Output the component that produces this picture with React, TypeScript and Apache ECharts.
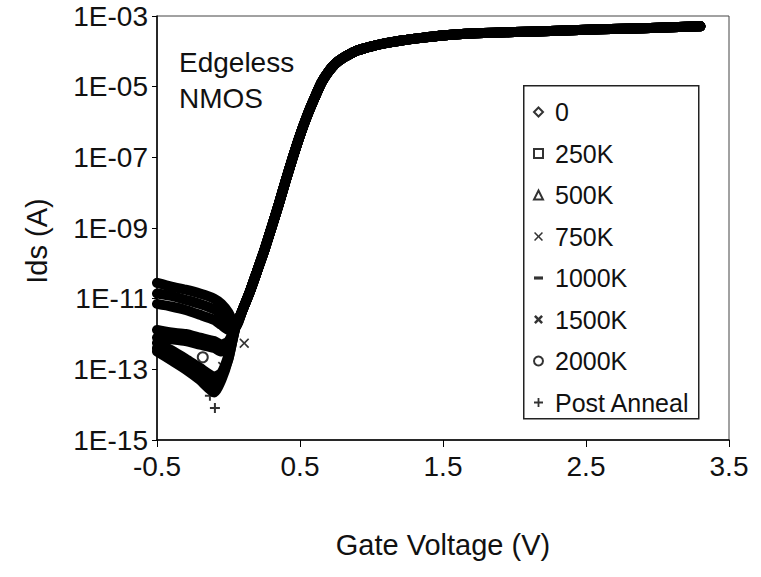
import React, { useEffect, useRef } from "react";
import * as echarts from "echarts";

const FONT = "'Liberation Sans', Arial, Helvetica, sans-serif";

const seriesNames = ["0", "250K", "500K", "750K", "1000K", "1500K", "2000K", "Post Anneal"];

// Gate voltage points in the sub-threshold (leakage) region
const subVoltage = [-0.5, -0.4, -0.3, -0.2, -0.1, -0.05, 0.0];
const ids0 = [2.8e-11, 2.2e-11, 1.8e-11, 1.4e-11, 1.0e-11, 7.1e-12, 4.0e-12];
const ids250K = [1.4e-11, 1.2e-11, 9.3e-12, 7.1e-12, 5.0e-12, 3.5e-12, 2.2e-12];
const ids500K = [7.1e-12, 6.0e-12, 4.8e-12, 3.5e-12, 2.5e-12, 1.8e-12, 1.3e-12];
const ids750K = [5.6e-13, 3.5e-13, 2.0e-13, 1.1e-13, 6.3e-14, 7.9e-14, 2.5e-13];
const ids1000K = [1.3e-12, 1.1e-12, 1.0e-12, 7.9e-13, 6.3e-13, 5.0e-13, 6.3e-13];
const ids1500K = [4.0e-13, 2.5e-13, 1.4e-13, 7.9e-14, 4.5e-14, 6.3e-14, 2.0e-13];
const ids2000K = [7.9e-13, 7.1e-13, 6.3e-13, 5.0e-13, 4.0e-13, 3.2e-13, 5.0e-13];
const idsPostAnneal = [3.2e-13, 1.8e-13, 1.0e-13, 5.0e-14, 2.2e-14, 5.0e-14, 2.0e-13];

// Shared turn-on curve (all doses overlap here)
const mainVoltage = [0.05, 0.1, 0.15, 0.2, 0.25, 0.3, 0.35, 0.4, 0.45, 0.5, 0.55, 0.6, 0.65, 0.7, 0.75, 0.8, 0.85, 0.9, 1.0, 1.1, 1.2, 1.35, 1.5, 1.7, 2.0, 2.3, 2.6, 2.9, 3.1, 3.3];
const mainIds = [1.6e-12, 5.0e-12, 1.6e-11, 6.0e-11, 2.3e-10, 1.0e-9, 4.5e-9, 2.2e-8, 1.0e-7, 4.2e-7, 1.5e-6, 4.6e-6, 1.3e-5, 2.7e-5, 4.6e-5, 6.5e-5, 8.4e-5, 1.05e-4, 1.38e-4, 1.7e-4, 2.0e-4, 2.4e-4, 2.8e-4, 3.2e-4, 3.5e-4, 3.8e-4, 4.2e-4, 4.5e-4, 4.8e-4, 5.1e-4];

// Isolated visible markers
const stray750K = [[0.11, 5.5e-13], [-0.04, 1.2e-13]];
const stray2000K = [[-0.18, 2.2e-13]];
const strayPostAnneal = [[-0.13, 1.8e-14], [-0.095, 8e-15]];

const yTickLabels = ["1E-15", "1E-13", "1E-11", "1E-09", "1E-07", "1E-05", "1E-03"];
const xTickLabels = ["-0.5", "0.5", "1.5", "2.5", "3.5"];

const X_PATH = "path://M1.2,0L5,3.8L8.8,0L10,1.2L6.2,5L10,8.8L8.8,10L5,6.2L1.2,10L0,8.8L3.8,5L0,1.2Z";
const DASH_PATH = "path://M0,0H10V3.5H0Z";
const STAR_PATH = "path://M0,2L2,0L5,3L8,0L10,2L7,5L10,8L8,10L5,7L2,10L0,8L3,5Z";
const PLUS_PATH = "path://M4,0H6V4H10V6H6V10H4V6H0V4H4Z";
const symbols = ["emptyDiamond", "emptyRect", "emptyTriangle", X_PATH, DASH_PATH, STAR_PATH, "emptyCircle", PLUS_PATH];

const subIds = [ids0, ids250K, ids500K, ids750K, ids1000K, ids1500K, ids2000K, idsPostAnneal];
const strays: Record<string, number[][]> = { "750K": stray750K, "2000K": stray2000K, "Post Anneal": strayPostAnneal };

export default function App() {
  const ref = useRef<HTMLDivElement>(null);
  useEffect(() => {
    if (!ref.current) return;
    const chart = echarts.init(ref.current, null, { renderer: "svg" });

    const scatterSeries = seriesNames.map((name, i) => ({
      name,
      type: "scatter",
      symbol: symbols[i],
      symbolSize: 10,
      itemStyle: { color: "#000", borderWidth: 1.5 },
      data: strays[name] || [],
      z: 5,
    }));
    const lineSeries = seriesNames.map((name, i) => ({
      name,
      type: "line",
      showSymbol: false,
      symbol: "none",
      smooth: 0.2,
      lineStyle: { color: "#000", width: 10, join: "round", cap: "round" },
      itemStyle: { color: "#000" },
      data: [
        ...subVoltage.map((v, k) => [v, subIds[i][k]]),
        ...mainVoltage.map((v, k) => [v, mainIds[k]]),
      ],
      z: 3,
    }));

    chart.setOption({
      animation: false,
      backgroundColor: "#fff",
      textStyle: { fontFamily: FONT },
      grid: { left: 157, right: 32, top: 16, bottom: 137, show: true, borderColor: "#444", borderWidth: 1 },
      xAxis: {
        type: "value",
        min: -0.5,
        max: 3.5,
        interval: 1,
        name: "Gate Voltage (V)",
        nameLocation: "middle",
        nameGap: 90,
        nameTextStyle: { fontSize: 29, color: "#111", fontFamily: FONT },
        axisLine: { onZero: false, lineStyle: { color: "#000", width: 1.5 } },
        axisTick: { show: true, length: 7, lineStyle: { color: "#000" } },
        axisLabel: {
          fontSize: 28,
          color: "#111",
          fontFamily: FONT,
          margin: 12,
          formatter: (v: number) => xTickLabels[Math.round(v + 0.5)] ?? String(v),
        },
        splitLine: { show: false },
      },
      yAxis: {
        type: "log",
        logBase: 10,
        min: 1e-15,
        max: 1e-3,
        interval: 2,
        name: "Ids (A)",
        nameLocation: "middle",
        nameGap: 106,
        nameTextStyle: { fontSize: 29, color: "#111", fontFamily: FONT, padding: [0, 26, 0, 0] },
        axisLine: { show: true, onZero: false, lineStyle: { color: "#000", width: 1.5 } },
        axisTick: { show: true, length: 5, lineStyle: { color: "#000" } },
        axisLabel: {
          fontSize: 28,
          color: "#111",
          fontFamily: FONT,
          margin: 9,
          formatter: (v: number) => {
            const e = Math.round(Math.log10(v));
            return yTickLabels[Math.round((e + 15) / 2)] ?? "";
          },
        },
        splitLine: { show: false },
      },
      legend: {
        orient: "vertical",
        left: 533,
        top: 99,
        padding: 0,
        itemWidth: 9,
        itemHeight: 9,
        itemGap: 15.5,
        selectedMode: false,
        z: 10,
        data: seriesNames.map((n, i) => ({ name: n, icon: symbols[i] })),
        textStyle: { fontSize: 25, color: "#111", fontFamily: FONT, lineHeight: 26, padding: [0, 0, 0, 7] },
      },
      graphic: [
        {
          type: "rect",
          left: 523,
          top: 85,
          z: 5,
          shape: { width: 175, height: 333 },
          style: { fill: "#fff", stroke: "#222", lineWidth: 1.5 },
        },
        {
          type: "text",
          left: 179,
          top: 44,
          z: 6,
          style: { text: "Edgeless\nNMOS", fontSize: 28, fontFamily: FONT, fill: "#111", lineHeight: 36 },
        },
      ],
      series: [...scatterSeries, ...lineSeries],
    });
    return () => chart.dispose();
  }, []);
  return <div ref={ref} style={{ position: "absolute", left: 0, top: 0, width: 761, height: 577, background: "#fff" }} />;
}
